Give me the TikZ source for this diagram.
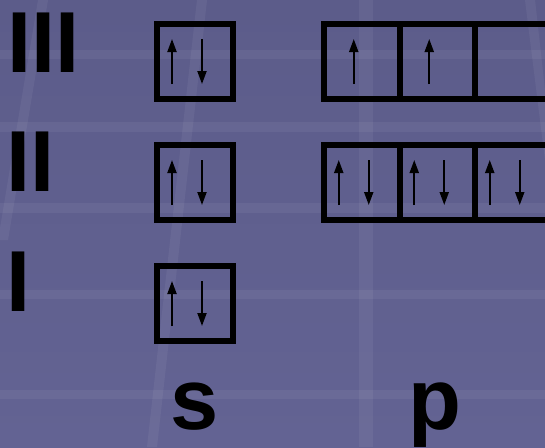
\documentclass[tikz,border=0pt]{standalone}
\usepackage{fontspec}
\setmainfont{Liberation Sans}
\usetikzlibrary{arrows.meta,calc}
\definecolor{bgtop}{RGB}{92,92,138}
\definecolor{bgbot}{RGB}{99,99,147}
\tikzset{
  orb/.style={draw=black,line width=6pt,minimum width=76pt,minimum height=75pt,inner sep=0pt,outer sep=0pt},
  porb/.style={orb,minimum width=75.5pt},
  spin/.style={line width=2pt,-{Triangle[width=9pt,length=13pt]}},
  big/.style={font=\fontsize{86.6}{90}\selectfont\bfseries,inner sep=0pt,outer sep=0pt,text=black},
  band/.style={fill=white,opacity=0.055},
}
\begin{document}
\begin{tikzpicture}[x=1pt,y=-1pt]
\useasboundingbox (0,0) rectangle (545,447);
\clip (0,0) rectangle (545,447);
\shade[top color=bgtop,bottom color=bgbot] (0,0) rectangle (545,447);
% faint background grid
\foreach \ya/\yb in {50/59,122/132,203/213,290/299,390/399}
  \fill[band] (0,\ya) rectangle (545,\yb);
\fill[band] (359,0) rectangle (373,447);
\fill[band] (197,0) -- (207,0) -- (157,447) -- (147,447) -- cycle;
\fill[band] (38,0) -- (48,0) -- (8,240) -- (0,240) -- (0,228) -- cycle;
\fill[band] (525,0) -- (535,0) -- (545,90) -- (545,160) -- cycle;
% shell labels
\node[big,anchor=base west] (n3) at (7.5,72) {III};
\node[big,anchor=base west] (n2) at (6.5,191) {II};
\node[big,anchor=base west] (n1) at (6.5,311) {I};
% s orbitals
\node[orb] (s3) at (195,61.5) {};
\node[orb] (s2) at (195,182.5) {};
\node[orb] (s1) at (195,303.5) {};
% p orbitals
\node[porb] (p3a) at (361.75,61.5) {};
\node[porb] (p3b) at (437.25,61.5) {};
\node[porb] (p3c) at (512.75,61.5) {};
\node[porb] (p2a) at (361.75,182.5) {};
\node[porb] (p2b) at (437.25,182.5) {};
\node[porb] (p2c) at (512.75,182.5) {};
% electron pairs
\foreach \b in {s3,s2,s1,p2a,p2b,p2c}{
  \draw[spin] ($(\b)+(-23,22.5)$) -- ($(\b)+(-23,-22.5)$);
  \draw[spin] ($(\b)+(7,-22.5)$) -- ($(\b)+(7,22.5)$);
}
% single electrons
\foreach \b in {p3a,p3b}
  \draw[spin] ($(\b)+(-8,22.5)$) -- ($(\b)+(-8,-22.5)$);
% subshell labels
\node[big,anchor=base] (sl) at (194.5,429) {s};
\node[big,anchor=base] (pl) at (435,429) {p};
\end{tikzpicture}
\end{document}
